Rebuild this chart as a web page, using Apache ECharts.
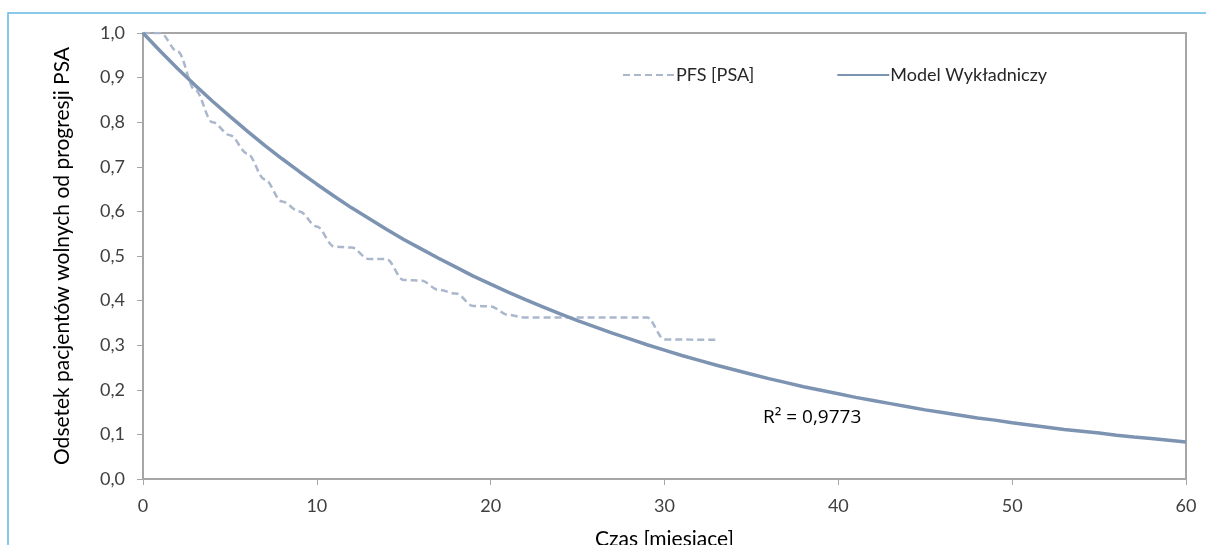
<!DOCTYPE html>
<html>
<head>
<meta charset="utf-8">
<script src="https://cdn.jsdelivr.net/npm/echarts@6/dist/echarts.min.js"></script>
<style>
  html, body { margin: 0; padding: 0; background: #fff; }
  #chart { width: 1206px; height: 545px; }
</style>
</head>
<body>
<div id="chart"></div>
<script>
// PFS (Kaplan-Meier)
var pfsMonths = [0, 1, 2, 3, 4, 5, 6, 7, 8, 9, 10, 11, 12, 13, 14, 15, 16, 17, 18, 19, 20, 21, 22, 23, 24, 25, 26, 27, 28, 29, 30, 31, 32, 33];
var pfsValues = [1.0, 1.0, 0.958, 0.872, 0.80, 0.771, 0.73, 0.672, 0.622, 0.60, 0.566, 0.521, 0.519, 0.493, 0.493, 0.446, 0.445, 0.424, 0.416, 0.388, 0.387, 0.368, 0.362, 0.362, 0.362, 0.362, 0.362, 0.362, 0.362, 0.362, 0.313, 0.313, 0.312, 0.312];

// exponential model, one value per month
var modelMonths = [0, 1, 2, 3, 4, 5, 6, 7, 8, 9, 10, 11, 12, 13, 14, 15, 16, 17, 18, 19, 20, 21, 22, 23, 24, 25, 26, 27, 28, 29, 30, 31, 32, 33, 34, 35, 36, 37, 38, 39, 40, 41, 42, 43, 44, 45, 46, 47, 48, 49, 50, 51, 52, 53, 54, 55, 56, 57, 58, 59, 60];
var modelValues = [1.000, 0.959, 0.920, 0.883, 0.847, 0.813, 0.780, 0.748, 0.718, 0.689, 0.661, 0.634, 0.608, 0.584, 0.560, 0.537, 0.516, 0.495, 0.475, 0.455, 0.437, 0.419, 0.402, 0.386, 0.370, 0.355, 0.341, 0.327, 0.314, 0.301, 0.289, 0.277, 0.266, 0.255, 0.245, 0.235, 0.225, 0.216, 0.207, 0.199, 0.191, 0.183, 0.176, 0.169, 0.162, 0.155, 0.149, 0.143, 0.137, 0.132, 0.126, 0.121, 0.116, 0.111, 0.107, 0.103, 0.098, 0.094, 0.091, 0.087, 0.083];

var seriesNames = ['PFS [PSA]', 'Model Wykładniczy'];
var r2Text = 'R² = 0,9773';

function pairs(xs, ys) {
  var out = [];
  for (var i = 0; i < xs.length; i++) out.push([xs[i], ys[i]]);
  return out;
}

var chart = echarts.init(document.getElementById('chart'));
var font = 'Lato, "Open Sans", sans-serif';

var option = {
  animation: false,
  textStyle: { fontFamily: font },
  grid: {
    left: 143, right: 20, top: 33, bottom: 66,
    outerBoundsMode: 'none', containLabel: false,
    show: true, borderColor: '#a6a6a6', borderWidth: 2
  },
  legend: {
    left: 617, top: 61,
    itemWidth: 52, itemHeight: 14, itemGap: 82,
    itemStyle: { opacity: 0 },
    textStyle: { fontSize: 18, color: '#262626', fontFamily: font, padding: [0, 0, 0, -4] },
    data: seriesNames
  },
  xAxis: {
    type: 'value', min: 0, max: 60, interval: 10,
    name: 'Czas [miesiące]', nameLocation: 'middle', nameGap: 50,
    nameTextStyle: { fontSize: 21, color: '#000', fontFamily: font },
    axisLine: { lineStyle: { color: '#a6a6a6', width: 2 } },
    axisTick: { show: true, length: 6, lineStyle: { color: '#a6a6a6' } },
    axisLabel: { fontSize: 18, color: '#404040', margin: 18 },
    splitLine: { show: false }
  },
  yAxis: {
    type: 'value', min: 0, max: 1, interval: 0.1,
    name: 'Odsetek pacjentów wolnych od progresji PSA', nameLocation: 'middle', nameGap: 70,
    nameTextStyle: { fontSize: 21, color: '#000', fontFamily: font },
    axisLine: { show: true, lineStyle: { color: '#a6a6a6', width: 2 } },
    axisTick: { show: true, length: 6, lineStyle: { color: '#a6a6a6' } },
    axisLabel: {
      fontSize: 18, color: '#404040', margin: 18,
      formatter: function (v) { return v.toFixed(1).replace('.', ','); }
    },
    splitLine: { show: false }
  },
  graphic: [
    {
      type: 'rect', silent: true, z: -1,
      shape: { x: 8, y: 13, width: 1400, height: 800 },
      style: { fill: null, stroke: '#62b8e6', lineWidth: 1.5 }
    },
    {
      type: 'text', left: 763, top: 408,
      style: { text: r2Text, fontSize: 19, fill: '#000', fontFamily: '"Open Sans", sans-serif' }
    }
  ],
  series: [
    {
      name: seriesNames[0], type: 'line', symbol: 'none',
      smooth: 0.35, smoothMonotone: 'x',
      lineStyle: { color: '#aab7cc', width: 2.5, type: [7, 4] },
      itemStyle: { color: '#aab7cc' },
      data: pairs(pfsMonths, pfsValues), z: 2
    },
    {
      name: seriesNames[1], type: 'line', symbol: 'none',
      lineStyle: { color: '#7d93b2', width: 3.5 },
      itemStyle: { color: '#7d93b2' },
      data: pairs(modelMonths, modelValues), z: 3
    }
  ]
};

chart.setOption(option);
</script>
</body>
</html>
